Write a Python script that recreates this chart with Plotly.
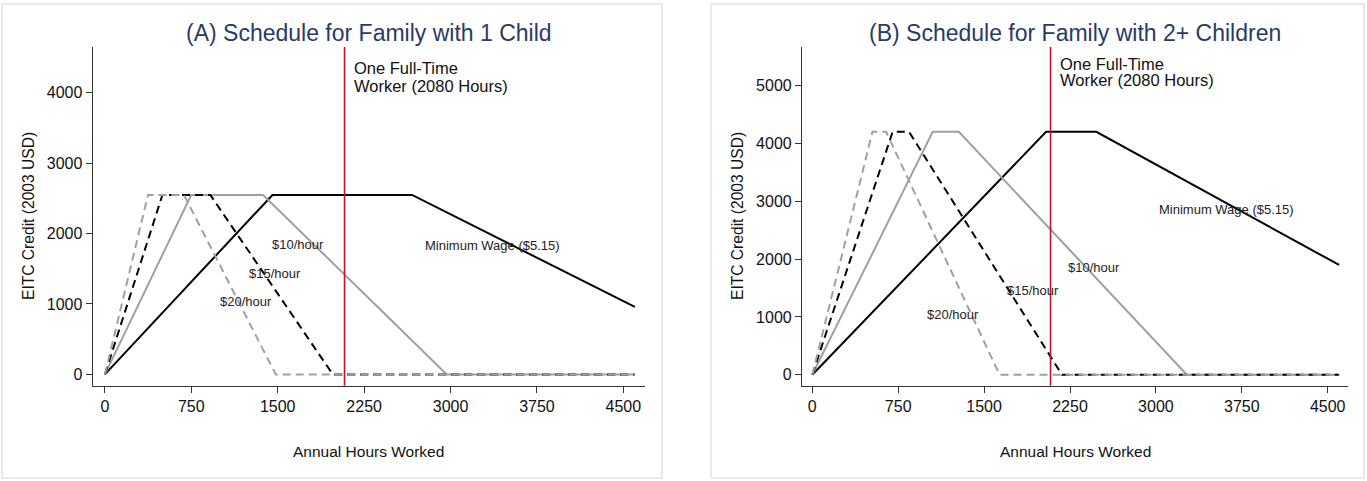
import plotly.graph_objects as go

W, H = 1367, 481

# ---------------- data ----------------
# Panel A: family with 1 child  (hours worked, EITC credit)
a_min_x = [0, 1454, 2666, 4600]
a_min_y = [0, 2547, 2547, 957]
a_10_x = [0, 749, 1373, 2967, 4600]
a_10_y = [0, 2547, 2547, 0, 0]
a_15_x = [0, 499, 915, 1978, 4600]
a_15_y = [0, 2547, 2547, 0, 0]
a_20_x = [0, 374, 686, 1483, 4600]
a_20_y = [0, 2547, 2547, 0, 0]

# Panel B: family with 2+ children
b_min_x = [0, 2041, 2480, 4600]
b_min_y = [0, 4204, 4204, 1900]
b_10_x = [0, 1051, 1280, 3270, 4600]
b_10_y = [0, 4204, 4204, 0, 0]
b_15_x = [0, 701, 845, 2180, 4600]
b_15_y = [0, 4204, 4204, 0, 0]
b_20_x = [0, 525, 645, 1635, 4600]
b_20_y = [0, 4204, 4204, 0, 0]

full_time_hours = 2080
x_ticks = [0, 750, 1500, 2250, 3000, 3750, 4500]
a_y_ticks = [0, 1000, 2000, 3000, 4000]
b_y_ticks = [0, 1000, 2000, 3000, 4000, 5000]

titles = ["(A) Schedule for Family with 1 Child", "(B) Schedule for Family with 2+ Children"]
series_labels = ["Minimum Wage ($5.15)", "$10/hour", "$15/hour", "$20/hour"]
# label positions (data coords) per panel
a_label_x = [3365, 1674, 1479, 1223]
a_label_y = [1834, 1840, 1438, 1028]
b_label_x = [3614, 2462, 1929, 1231]
b_label_y = [2860, 1857, 1462, 1050]

# ---------------- styling ----------------
FONT = "Liberation Sans, Arial, sans-serif"
BLACK = "#000000"
GRAY = "#a0a0a0"
RED = "#c8102e"
TITLE_C = "#2a3a68"
DASH = "8px,5px"
styles = [
    dict(color=BLACK, width=2, dash="solid"),
    dict(color=GRAY, width=2, dash="solid"),
    dict(color=BLACK, width=2, dash=DASH),
    dict(color=GRAY, width=2, dash=DASH),
]

fig = go.Figure()

panels = [
    dict(xs=[a_min_x, a_10_x, a_15_x, a_20_x], ys=[a_min_y, a_10_y, a_15_y, a_20_y],
         xa="x", ya="y", lx=a_label_x, ly=a_label_y),
    dict(xs=[b_min_x, b_10_x, b_15_x, b_20_x], ys=[b_min_y, b_10_y, b_15_y, b_20_y],
         xa="x2", ya="y2", lx=b_label_x, ly=b_label_y),
]

for p in panels:
    for xs, ys, st in zip(p["xs"], p["ys"], styles):
        fig.add_trace(go.Scatter(x=xs, y=ys, mode="lines", line=st,
                                 xaxis=p["xa"], yaxis=p["ya"], hoverinfo="skip",
                                 showlegend=False))

def px_x(v):
    return v / W

def px_y(v):
    return 1 - v / H

# plot area geometry (pixels)
a_left, a_right = 92.7, 645.0
b_left, b_right = 802.0, 1348.3
top, bottom = 47.0, 385.8

axis_common = dict(showgrid=False, zeroline=False, showline=True, linecolor="#333333",
                   linewidth=1.2, ticks="outside", ticklen=6, tickwidth=1.2,
                   tickcolor="#333333", tickfont=dict(family=FONT, size=16, color="#111111"),
                   fixedrange=True)

fig.update_layout(
    width=W, height=H,
    margin=dict(l=0, r=0, t=0, b=0),
    paper_bgcolor="white", plot_bgcolor="white",
    showlegend=False,
    xaxis=dict(domain=[px_x(a_left), px_x(a_right)], range=[-106, 4688],
               tickvals=x_ticks, anchor="y", **axis_common),
    yaxis=dict(domain=[px_y(bottom), px_y(top)], range=[-162, 4647],
               tickvals=a_y_ticks, anchor="x", **axis_common),
    xaxis2=dict(domain=[px_x(b_left), px_x(b_right)], range=[-90, 4680],
                tickvals=x_ticks, anchor="y2", **axis_common),
    yaxis2=dict(domain=[px_y(bottom), px_y(top)], range=[-191, 5673],
                tickvals=b_y_ticks, anchor="x2", **axis_common),
)

shapes = []
# outer panel borders
for x0, x1 in [(2, 662), (711, 1364)]:
    shapes.append(dict(type="rect", xref="paper", yref="paper",
                       x0=px_x(x0), x1=px_x(x1), y0=px_y(478), y1=px_y(4),
                       line=dict(color="#dde2ec", width=1.5), fillcolor="rgba(0,0,0,0)",
                       layer="below"))
# full-time vertical lines
for xa, ya in [("x", "y"), ("x2", "y2")]:
    shapes.append(dict(type="line", xref=xa, yref=ya + " domain",
                       x0=full_time_hours, x1=full_time_hours, y0=0, y1=1,
                       line=dict(color=RED, width=1.6)))
fig.update_layout(shapes=shapes)

ann = []
# titles
for t, (l, r) in zip(titles, [(a_left, a_right), (b_left, b_right)]):
    ann.append(dict(text=t, xref="paper", yref="paper", x=px_x((l + r) / 2), y=px_y(33),
                    xanchor="center", yanchor="middle", showarrow=False,
                    font=dict(family=FONT, size=23, color=TITLE_C)))
    ann.append(dict(text="Annual Hours Worked", xref="paper", yref="paper",
                    x=px_x((l + r) / 2), y=px_y(451), xanchor="center", yanchor="middle",
                    showarrow=False, font=dict(family=FONT, size=15.5, color="#111111")))
# y-axis titles
for xc in [28, 737]:
    ann.append(dict(text="EITC Credit (2003 USD)", xref="paper", yref="paper",
                    x=px_x(xc), y=px_y(216), xanchor="center", yanchor="middle",
                    textangle=-90, showarrow=False,
                    font=dict(family=FONT, size=15.6, color="#111111")))
# full-time worker labels
for xa, y1, y2 in [("x", 68.5, 85.5), ("x2", 63.5, 80.5)]:
    for txt, yy in [("One Full-Time", y1), ("Worker (2080 Hours)", y2)]:
        ann.append(dict(text=txt, xref=xa, yref="paper", x=full_time_hours, xshift=7,
                        y=px_y(yy), xanchor="left", yanchor="middle", showarrow=False,
                        font=dict(family=FONT, size=16.5, color="#111111")))
# series labels
for p in panels:
    for lab, lx, ly in zip(series_labels, p["lx"], p["ly"]):
        ann.append(dict(text=lab, xref=p["xa"], yref=p["ya"], x=lx, y=ly,
                        xanchor="center", yanchor="middle", showarrow=False,
                        font=dict(family=FONT, size=13, color="#222222")))
fig.update_layout(annotations=ann)

fig.write_html("out.html", config={"displayModeBar": False},
               post_script="document.body.style.margin='0';document.body.style.overflow='hidden';")
